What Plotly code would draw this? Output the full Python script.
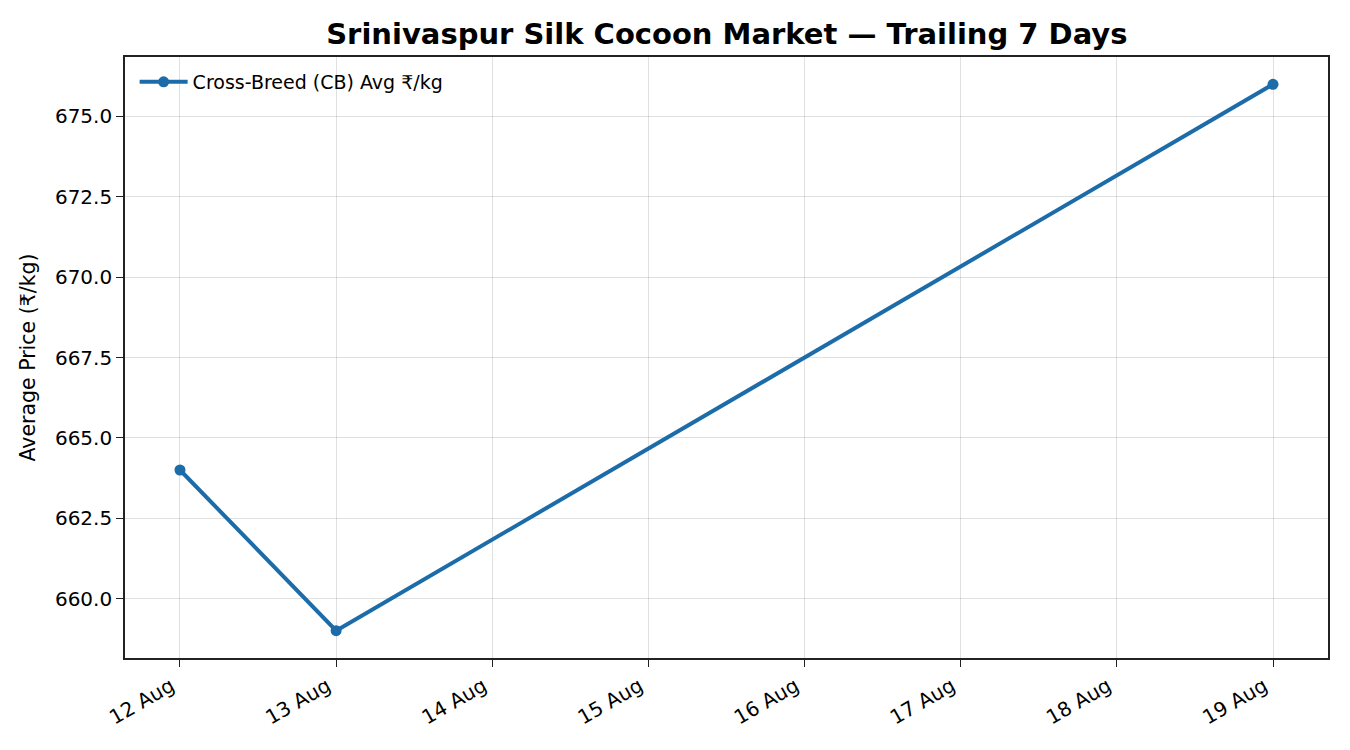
import plotly.graph_objects as go

# Trailing-week CB cocoon prices (Srinivaspur market)
dates = ["2025-08-12", "2025-08-13", "2025-08-19"]
avg_price = [664.0, 659.0, 676.0]
series_name = "Cross-Breed (CB) Avg ₹/kg"

x_range = ["2025-08-11 15:33", "2025-08-19 08:27"]
y_range = [658.15, 676.85]

blue = "#1c6ca9"
font = "DejaVu Sans"

fig = go.Figure()
fig.add_trace(go.Scatter(
    x=dates,
    y=avg_price,
    mode="lines+markers",
    name=series_name,
    line=dict(color=blue, width=4),
    marker=dict(color=blue, size=11),
))

axis_common = dict(
    showline=True,
    linecolor="#222222",
    linewidth=1.6,
    mirror=True,
    ticks="outside",
    ticklen=7,
    tickwidth=1.4,
    tickcolor="#222222",
    showgrid=True,
    gridcolor="rgba(0,0,0,0.12)",
    gridwidth=1,
    zeroline=False,
    tickfont=dict(family=font, size=20, color="black"),
)

# page body adds ~8px offset, so margins are trimmed on top/left
fig.update_layout(
    width=1350,
    height=750,
    paper_bgcolor="white",
    plot_bgcolor="white",
    margin=dict(l=117, r=30, t=49, b=100),
    title=dict(
        text="<b>Srinivaspur Silk Cocoon Market — Trailing 7 Days</b>",
        x=0.5325, xanchor="center",
        y=0.965, yanchor="middle",
        font=dict(family=font, size=29, color="black"),
    ),
    xaxis=dict(
        type="date",
        range=x_range,
        dtick=86400000,
        tick0="2025-08-12",
        tickformat="%d %b",
        tickangle=-30,
        ticklabelshift=-9,
        **axis_common,
    ),
    yaxis=dict(
        range=y_range,
        tick0=660,
        dtick=2.5,
        tickformat=".1f",
        title=dict(text="Average Price (₹/kg)", font=dict(family=font, size=20.5, color="black"), standoff=14),
        **axis_common,
    ),
    legend=dict(
        x=0.008, y=0.99, xanchor="left", yanchor="top",
        bgcolor="rgba(0,0,0,0)",
        itemwidth=48,
        font=dict(family=font, size=19, color="black"),
    ),
    showlegend=True,
)

fig.write_html("out.html")
